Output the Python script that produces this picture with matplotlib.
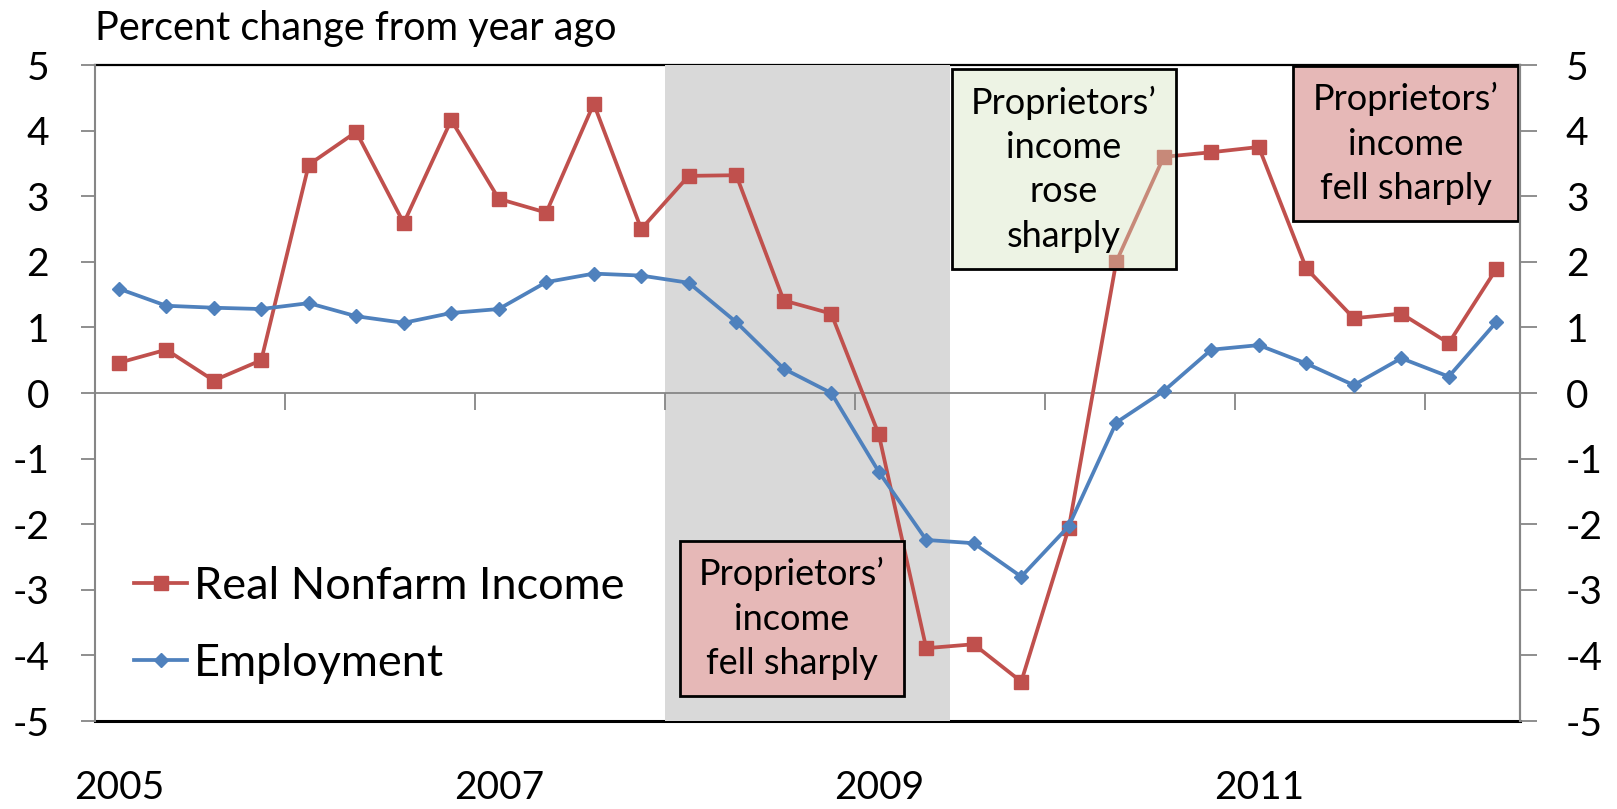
import matplotlib
matplotlib.use("Agg")
import matplotlib.pyplot as plt
from matplotlib.patches import Rectangle

plt.rcParams['font.family'] = ['Lato', 'DejaVu Sans']
plt.rcParams['axes.unicode_minus'] = False

# quarterly, 2005Q1 .. 2012Q2
quarters = [f"{y}Q{q}" for y in range(2005, 2013) for q in range(1, 5)][:30]
nonfarm_income = [0.46, 0.66, 0.19, 0.50, 3.48, 3.98, 2.59, 4.16, 2.96, 2.75,
                  4.41, 2.50, 3.31, 3.32, 1.41, 1.21, -0.63, -3.89, -3.83, -4.40,
                  -2.06, 2.00, 3.60, 3.67, 3.75, 1.90, 1.14, 1.21, 0.76, 1.89]
employment = [1.59, 1.33, 1.30, 1.28, 1.37, 1.17, 1.07, 1.22, 1.28, 1.69,
              1.82, 1.79, 1.68, 1.08, 0.37, 0.00, -1.20, -2.24, -2.29, -2.80,
              -2.03, -0.45, 0.03, 0.66, 0.73, 0.45, 0.12, 0.53, 0.25, 1.08]
year_labels = ["2005", "2007", "2009", "2011"]
recession = ("2008Q1", "2009Q2")

RED = "#C0504D"
BLUE = "#4F81BD"
GRAY = "#868686"

W, H = 1617, 809
fig = plt.figure(figsize=(W / 100, H / 100), dpi=100)
L, R, T, B = 95, 1520, 65, 721
ax = fig.add_axes([L / W, 1 - B / H, (R - L) / W, (B - T) / H])

x = list(range(len(quarters)))
ax.set_xlim(-0.5, len(quarters) - 0.5)
ax.set_ylim(-5, 5)

# recession shading, drawn over the frame like the original
i0, i1 = quarters.index(recession[0]), quarters.index(recession[1])
ax.axvspan(i0 - 0.5, i1 + 0.5, color="#D9D9D9", zorder=1, lw=0)
ax.axhline(5, color="black", lw=1.6, zorder=0.5, clip_on=False)
ax.axhline(-5, color="black", lw=2.2, zorder=0.5, clip_on=False)

ax.plot(x, nonfarm_income, color=RED, lw=2.7, marker="s", ms=10.5,
        label="Real Nonfarm Income", zorder=3)
ax.plot(x, employment, color=BLUE, lw=2.7, marker="D", ms=7.5,
        label="Employment", zorder=3)

# axes styling
ax.spines["top"].set_visible(False)
ax.spines["bottom"].set_position(("data", 0))
ax.spines["bottom"].set_color(GRAY)
ax.spines["bottom"].set_linewidth(1.3)
ax.spines["bottom"].set_zorder(2)
for s in ("left", "right"):
    ax.spines[s].set_color(GRAY)
    ax.spines[s].set_linewidth(1.5)

ax.set_xticks([k - 0.5 for k in range(4, len(quarters), 4)])
ax.set_xticklabels([])
ax.tick_params(axis="x", direction="out", length=12, width=1.3, color=GRAY)
ax.set_yticks(range(-5, 6))
ax.tick_params(axis="y", direction="out", length=10, width=1.3, color=GRAY,
               labelsize=28, pad=23)

ax2 = ax.twinx()
ax2.set_ylim(-5, 5)
ax2.set_yticks(range(-5, 6))
ax2.tick_params(axis="y", direction="out", length=12, width=1.3, color=GRAY,
                labelsize=28, pad=21)
for s in ("top", "bottom", "left"):
    ax2.spines[s].set_visible(False)
ax2.spines["right"].set_color(GRAY)
ax2.spines["right"].set_linewidth(1.5)

# year labels under the plot
for lab in year_labels:
    ax.text(quarters.index(lab + "Q1"), -0.102, lab, transform=ax.get_xaxis_transform(),
            ha="center", va="center", fontsize=28)

fig.text(L / W, 1 - 40 / H, "Percent change from year ago", fontsize=28.5,
         ha="left", va="baseline")

leg = ax.legend(loc="upper left", bbox_to_anchor=(134 / W, 1 - 566 / H),
                bbox_transform=fig.transFigure, frameon=False, fontsize=32.5,
                handlelength=1.18, handletextpad=0.15, labelspacing=0.8,
                borderpad=0, borderaxespad=0)


def box(px0, px1, py0, py1, face, text):
    ax0 = (px0 - L) / (R - L)
    ay0 = (B - py1) / (B - T)
    w = (px1 - px0) / (R - L)
    h = (py1 - py0) / (B - T)
    ax.add_patch(Rectangle((ax0, ay0), w, h, transform=ax.transAxes,
                           facecolor=face, edgecolor="black", lw=2,
                           zorder=4, clip_on=False))
    ax.text(ax0 + w / 2, ay0 + h / 2, text, transform=ax.transAxes,
            ha="center", va="center", fontsize=26, linespacing=1.42, zorder=5)


box(952, 1176, 69, 269, (212 / 255, 225 / 255, 188 / 255, 0.4),
    "Proprietors\u2019\nincome\nrose\nsharply")
box(1293, 1518, 66, 221, "#E6B8B7", "Proprietors\u2019\nincome\nfell sharply")
box(680, 904, 541, 696, "#E6B8B7", "Proprietors\u2019\nincome\nfell sharply")

fig.savefig("out.png", dpi=100)
